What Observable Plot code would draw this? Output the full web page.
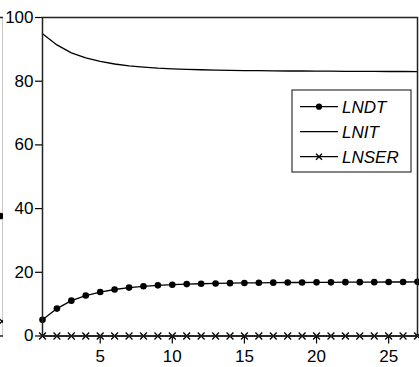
<!DOCTYPE html>
<html>
<head>
<meta charset="utf-8">
<script src="https://cdn.jsdelivr.net/npm/d3@7"></script>
<script src="https://cdn.jsdelivr.net/npm/@observablehq/plot@0.6"></script>
<style>
  html, body { margin: 0; padding: 0; background: #fff; }
  #wrap { position: relative; width: 419px; height: 367px; overflow: hidden; background: #fff; }
  #wrap svg { position: absolute; top: 0; background: transparent; }
</style>
</head>
<body>
<div id="wrap"></div>
<script>
const periods = [1,2,3,4,5,6,7,8,9,10,11,12,13,14,15,16,17,18,19,20,21,22,23,24,25,26,27];
const LNDT = [5.1, 8.6, 11.1, 12.7, 13.8, 14.6, 15.2, 15.6, 15.9, 16.1, 16.3, 16.4, 16.5, 16.6, 16.65, 16.7, 16.75, 16.8, 16.8, 16.85, 16.85, 16.9, 16.9, 16.9, 16.95, 16.95, 17.0];
const LNIT = [94.9, 91.4, 88.9, 87.3, 86.2, 85.4, 84.8, 84.4, 84.1, 83.9, 83.7, 83.6, 83.5, 83.4, 83.35, 83.3, 83.25, 83.2, 83.2, 83.15, 83.15, 83.1, 83.1, 83.1, 83.05, 83.05, 83.0];
const LNSER = [0,0,0,0,0,0,0,0,0,0,0,0,0,0,0,0,0,0,0,0,0,0,0,0,0,0,0];
const seriesNames = ["LNDT", "LNIT", "LNSER"];
const yTicks = [0, 20, 40, 60, 80, 100];
const xTicks = [5, 10, 15, 20, 25];
// last visible values of the neighbouring (cropped) panel on the left
const neighborLNDT = 37.7;
const neighborLNSER = 4.6;

const FONT = '"Liberation Sans", Arial, sans-serif';
const W = 419, H = 367;
const mTop = 17, mBottom = 31.5, mLeft = 42, mRight = 2;

const rows = periods.map((p, i) => ({p, LNDT: LNDT[i], LNIT: LNIT[i], LNSER: LNSER[i]}));

const main = Plot.plot({
  width: W, height: H,
  marginTop: mTop, marginBottom: mBottom, marginLeft: mLeft, marginRight: mRight,
  style: {fontFamily: FONT, fontSize: "17px", color: "#000", background: "transparent"},
  x: {domain: [1, 27]},
  y: {domain: [0, 100]},
  marks: [
    Plot.axisY({ticks: yTicks, tickSize: 7, tickPadding: 2, label: null, fontSize: 17, strokeWidth: 1.2}),
    Plot.axisX({ticks: xTicks, tickSize: 8, tickPadding: 6, label: null, fontSize: 17, strokeWidth: 1.2}),
    Plot.lineY(rows, {x: "p", y: "LNIT", stroke: "#000", strokeWidth: 1.3}),
    Plot.lineY(rows, {x: "p", y: "LNDT", stroke: "#000", strokeWidth: 1.3}),
    Plot.dot(rows, {x: "p", y: "LNDT", r: 3.3, fill: "#000", stroke: "none"}),
    Plot.lineY(rows, {x: "p", y: "LNSER", stroke: "#000", strokeWidth: 1.3}),
    Plot.dot(rows, {x: "p", y: "LNSER", symbol: "times", r: 3.2, stroke: "#000", strokeWidth: 1.3}),
    Plot.frame({stroke: "#222", strokeWidth: 1.5})
  ]
});
main.style.left = "0px";

// Legend inside the plot area
const svg = d3.select(main);
const lg = svg.append("g").attr("font-family", FONT).attr("text-anchor", "start");
const lx0 = 292, ly0 = 90, lw = 119, lh = 82;
lg.append("rect").attr("x", lx0).attr("y", ly0).attr("width", lw).attr("height", lh)
  .attr("fill", "#fff").attr("stroke", "#333").attr("stroke-width", 1.2);
seriesNames.forEach((name, i) => {
  const cy = ly0 + 16.7 + i * 25;
  const g = lg.append("g");
  g.append("line").attr("x1", lx0 + 8).attr("x2", lx0 + 46).attr("y1", cy).attr("y2", cy)
    .attr("stroke", "#000").attr("stroke-width", 1.3);
  if (name === "LNDT") {
    g.append("circle").attr("cx", lx0 + 27).attr("cy", cy).attr("r", 3.1).attr("fill", "#000");
  } else if (name === "LNSER") {
    const s = 3;
    g.append("path").attr("d", `M${lx0+27-s},${cy-s}L${lx0+27+s},${cy+s}M${lx0+27-s},${cy+s}L${lx0+27+s},${cy-s}`)
      .attr("stroke", "#000").attr("stroke-width", 1.3);
  }
  g.append("text").attr("x", lx0 + 50).attr("y", cy).attr("dy", "0.36em")
    .attr("text-anchor", "start")
    .attr("font-size", 17).attr("font-style", "italic").attr("fill", "#000").text(name);
});

// cropped neighbour panel at the far left
const nW = 60;
const neighbor = Plot.plot({
  width: nW, height: H,
  marginTop: mTop, marginBottom: mBottom, marginLeft: 0, marginRight: 0,
  style: {background: "transparent"},
  x: {domain: [0, 1], axis: null},
  y: {domain: [0, 100], axis: null},
  marks: [
    Plot.frame({stroke: "#222", strokeWidth: 1.5}),
    Plot.dot([neighborLNDT], {x: () => 0.95, y: d => d, r: 3.3, fill: "#000", stroke: "none"}),
    Plot.dot([neighborLNSER], {x: () => 0.975, y: d => d, symbol: "times", r: 3.2, stroke: "#000", strokeWidth: 1.3})
  ]
});
neighbor.style.left = (3 - nW) + "px";

const wrap = document.getElementById("wrap");
wrap.appendChild(neighbor);
wrap.appendChild(main);
</script>
</body>
</html>
